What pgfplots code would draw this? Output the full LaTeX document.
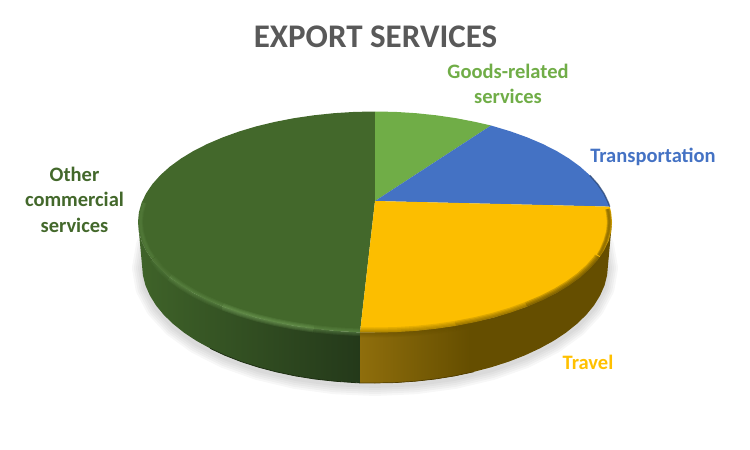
\documentclass[border=0pt]{standalone}
\usepackage{pgfplots}
\pgfplotsset{compat=1.18}
\usepackage{fontspec}
\setmainfont{Carlito}
\definecolor{cgoods}{HTML}{70AD47}
\definecolor{cblue}{HTML}{4472C4}
\definecolor{cyel}{HTML}{FCBE00}
\definecolor{ctravel}{HTML}{FFC000}
\definecolor{cother}{HTML}{43682B}
\definecolor{ctitle}{HTML}{595959}
\definecolor{sA}{HTML}{3F6329}
\definecolor{sB}{HTML}{24391A}
\definecolor{yA}{HTML}{8F6E0C}
\definecolor{yB}{HTML}{654E00}
\definecolor{eG}{HTML}{1D2E12}
\definecolor{eY}{HTML}{4F3C00}
\definecolor{hG}{HTML}{74A05A}
\definecolor{eB}{HTML}{24406F}
\begin{document}
\begin{tikzpicture}
\begin{axis}[
  scale only axis, width=750pt, height=450pt,
  xmin=0, xmax=750, ymin=0, ymax=450, y dir=reverse,
  hide axis, clip=false, no markers, line join=round,
]
\path (axis cs:0,0) rectangle (axis cs:750,450);
% ---- soft shadow
\pgfplotsinvokeforeach{20,16,12,8,4}{
\addplot[draw=black, line width=#1pt, opacity=0.03, line cap=round] coordinates {
(604,245)(608,268)(604.5,288.5)(594,308.4)(576.8,327)(553.5,343.9)(524.8,358.4)(491.5,370.2)(454.7,378.9)(415.5,384.2)(375,386)(334.5,384.2)(295.3,378.9)(258.5,370.2)(225.2,358.4)(196.5,343.9)(173.2,327)(156,308.4)(145.5,288.5)(142,268)(146,245)};
}
% ---- side walls
\addplot[draw=none, left color=sA, right color=sB] coordinates {
(138,222)(138.9,231.6)(141.6,241.2)(146.1,250.6)(152.3,259.8)(169.8,277.3)(193.4,293)(222.7,306.6)(256.5,317.7)(293.9,325.8)(333.8,330.8)(360,332.5)
(360,382.9)(354.7,382.6)(334.5,381.2)(314.7,379)(295.3,375.9)(276.5,371.9)(258.5,367.2)(241.4,361.7)(225.2,355.4)(210.2,348.4)(196.5,340.9)(184.1,332.7)(173.2,324)(163.8,314.9)(156,305.4)(149.9,295.5)(145.5,285.5)(142.9,275.3)(142,265)} --cycle;
\addplot[draw=none, fill=yB] coordinates {
(360,332.5)(375,332.5)(416.2,330.8)(456.1,325.8)(493.5,317.7)(527.3,306.6)(556.6,293)(580.2,277.3)(597.7,259.8)(608.4,241.2)(612,222)
(608,265)(607.1,275.3)(604.5,285.5)(600.1,295.5)(594,305.4)(586.2,314.9)(576.8,324)(565.9,332.7)(553.5,340.9)(539.8,348.4)(524.8,355.4)(508.6,361.7)(491.5,367.2)(473.5,371.9)(454.7,375.9)(435.3,379)(415.5,381.2)(395.3,382.6)(375,383)(360,382.9)} --cycle;
\addplot[draw=none, left color=yA, right color=yB] coordinates {
(360,332.5)(375,332.5)(416.2,330.8)(456.1,325.8)(470,322)(470,372.5)(454.7,375.9)(435.3,379)(415.5,381.2)(395.3,382.6)(375,383)(360,382.9)} --cycle;
% bottom edges
\addplot[draw=eG, line width=0.8pt] coordinates {
(360,382.9)(354.7,382.6)(334.5,381.2)(314.7,379)(295.3,375.9)(276.5,371.9)(258.5,367.2)(241.4,361.7)(225.2,355.4)(210.2,348.4)};
\addplot[draw=eY, line width=0.7pt] coordinates {
(360,382.9)(375,383)(395.3,382.6)(415.5,381.2)(435.3,379)(454.7,375.9)(473.5,371.9)};
% ---- top slices
\addplot[draw=none, fill=cother] coordinates {
(375,201)(360,332.3)(354.3,332.1)(333.8,330.8)(313.7,328.7)(293.9,325.8)(274.8,322.1)(256.5,317.7)(239.1,312.5)(222.7,306.6)(207.4,300.1)(193.4,293)(180.9,285.4)(169.8,277.3)(160.2,268.7)(152.3,259.8)(146.1,250.6)(141.6,241.2)(138.9,231.6)(138,222)
(138.9,212.4)(141.6,202.8)(146.1,193.4)(152.3,184.2)(160.2,175.3)(169.8,166.7)(180.9,158.6)(193.4,151)(207.4,143.9)(222.7,137.4)(239.1,131.5)(256.5,126.3)(274.8,121.9)(293.9,118.2)(313.7,115.3)(333.8,113.2)(354.3,111.9)(375,111.5)} --cycle;
\addplot[draw=none, fill=cgoods] coordinates {
(375,201)(375,111.5)(395.7,111.9)(416.2,113.2)(436.3,115.3)(456.1,118.2)(475.2,121.9)(491,125.5)} --cycle;
\addplot[draw=none, fill=cblue] coordinates {
(375,201)(491,125.5)(510.9,131.5)(527.3,137.4)(542.6,143.9)(556.6,151)(569.1,158.6)(580.2,166.7)(589.8,175.3)(597.7,184.2)(603.9,193.4)(608.4,202.8)(609.7,206.6)} --cycle;
\addplot[draw=none, fill=cyel] coordinates {
(375,201)(609.7,206.6)(611.1,212.4)(612,222)(611.1,231.6)(608.4,241.2)(603.9,250.6)(597.7,259.8)(589.8,268.7)(580.2,277.3)(569.1,285.4)(556.6,293)(542.6,300.1)(527.3,306.6)(510.9,312.5)(493.5,317.7)(475.2,322.1)(456.1,325.8)(436.3,328.7)(416.2,330.8)(395.7,332.1)(375,332.5)(360,332.3)} --cycle;
% ---- bevels near the left and right ends, kept inside the top
\pgfplotsinvokeforeach{5,3.5,2}{
\addplot[draw=yB, line width=#1pt, opacity=0.3] coordinates {(607.6,209)(608.6,213)(609.5,222)(608.6,231.6)(605.9,241.2)(601.9,250.6)(599,255.5)};
\addplot[draw=hG, line width=#1pt, opacity=0.1] coordinates {(144.1,202.8)(141.4,212.4)(140.5,222)(141.4,231.6)(144.1,241.2)(148.1,250.6)(153,258)};
}
% ---- bevels: yellow, a dark soft band
\pgfplotsinvokeforeach{10,7.5,5,2.5}{
\addplot[draw=yB, line width=#1pt, opacity=0.3] coordinates {(599.3,257)(597.7,259.8)(589.8,268.7)(580.2,277.3)(569.1,285.4)(556.6,293)(542.6,300.1)(527.3,306.6)};
\addplot[draw=yB, line width=#1pt, opacity=0.2] coordinates {(527.3,306.6)(510.9,312.5)(493.5,317.7)(475.2,322.1)(456.1,325.8)};
\addplot[draw=yB, line width=#1pt, opacity=0.14] coordinates {(456.1,325.8)(436.3,328.7)(416.2,330.8)(395.7,332.1)(375,332.5)(360,332.3)};
}
% ---- bevels: green, a light soft ridge
\pgfplotsinvokeforeach{7.5,5.5,3.5,1.8}{
\addplot[draw=hG, line width=#1pt, opacity=0.07] coordinates {(153,259)(160.2,268.7)(169.8,277.3)};
\addplot[draw=hG, line width=#1pt, opacity=0.12] coordinates {(169.8,277.3)(180.9,285.4)(193.4,293)(207.4,300.1)(222.7,306.6)};
\addplot[draw=hG, line width=#1pt, opacity=0.2] coordinates {(222.7,306.6)(239.1,312.5)(256.5,317.7)(274.8,322.1)(293.9,325.8)(313.7,328.7)};
\addplot[draw=hG, line width=#1pt, opacity=0.13] coordinates {(313.7,328.7)(333.8,330.8)(354.3,332.1)(360,332.3)};
}
% ---- dark edge, right upper
\addplot[draw=eB, line width=1.4pt, opacity=0.7] coordinates {(589.8,175.3)(597.7,184.2)(603.9,193.4)(608.4,202.8)(609.7,206.6)};
% ---- texts
\node[text=ctitle, font=\fontsize{33}{33}\selectfont\bfseries, anchor=center] at (axis cs:375.5,36.5) {EXPORT SERVICES};
\node[text=cgoods, font=\fontsize{20.5}{25}\selectfont\bfseries, align=center, anchor=center] at (axis cs:508,83.5) {Goods-related\\services};
\node[text=cblue, font=\fontsize{20.5}{25}\selectfont\bfseries, anchor=center] at (axis cs:653,157) {Transportation};
\node[text=ctravel, font=\fontsize{20.5}{25}\selectfont\bfseries, anchor=center] at (axis cs:588,362) {Travel};
\node[text=cother, font=\fontsize{20.5}{25.5}\selectfont\bfseries, align=center, anchor=center] at (axis cs:74.5,199.5) {Other\\commercial\\services};
\end{axis}
\end{tikzpicture}
\end{document}
